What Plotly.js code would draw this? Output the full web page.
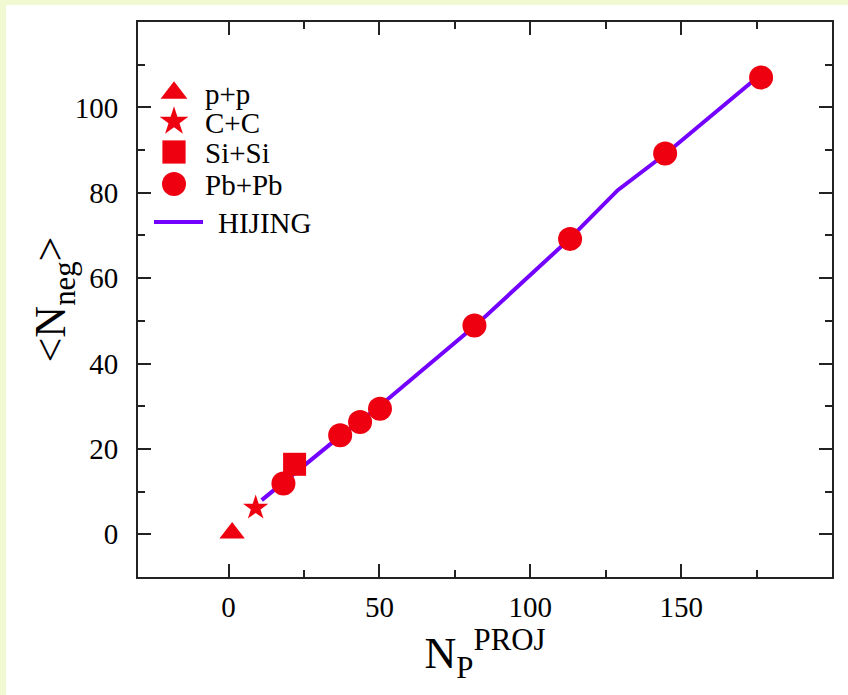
<!DOCTYPE html>
<html>
<head>
<meta charset="utf-8">
<script src="https://cdn.plot.ly/plotly-2.35.2.min.js"></script>
<style>
  html, body { margin: 0; padding: 0; background: #f0f9d2; width: 848px; height: 695px; overflow: hidden; }
  #chart { position: absolute; left: 6px; top: 5px; width: 842px; height: 690px; background: #ffffff; }
</style>
</head>
<body>
<div id="chart"></div>
<script>
// ---- data ----
const ppX = [1.2];
const ppY = [0.3];
const ccX = [9.0];
const ccY = [6.2];
const siX = [21.9];
const siY = [16.4];
const pbX = [18.2, 37.0, 43.6, 50.2, 81.5, 113.2, 144.7, 176.5];
const pbY = [11.9, 23.2, 26.3, 29.4, 48.9, 69.2, 89.2, 107.0];
const hijingX = [11, 18, 37, 50, 82, 113, 129, 145, 174];
const hijingY = [8.0, 12.0, 23.0, 30.0, 49.0, 69.2, 80.6, 89.2, 106.3];
const xMajorTicks = [0, 50, 100, 150];
const xMinorTicks = [25, 75, 125, 175];
const yMajorTicks = [0, 20, 40, 60, 80, 100];
const yMinorTicks = [10, 30, 50, 70, 90, 110];

const RED = '#ee0010';
const PURPLE = '#7400ff';
const FONT = 'Liberation Serif, Times New Roman, serif';

const traces = [
  { x: ppX, y: ppY, mode: 'markers', name: 'p+p', legendrank: 1,
    marker: { symbol: 'triangle-up', size: 22, color: RED } },
  { x: ccX, y: ccY, mode: 'markers', name: 'C+C', legendrank: 2,
    marker: { symbol: 'star', size: 19, color: RED } },
  { x: siX, y: siY, mode: 'markers', name: 'Si+Si', legendrank: 3,
    marker: { symbol: 'square', size: 23, color: RED } },
  { x: pbX, y: pbY, mode: 'markers', name: 'Pb+Pb', legendrank: 4,
    marker: { symbol: 'circle', size: 24, color: RED } },
  { x: hijingX, y: hijingY, mode: 'lines', name: 'HIJING', legendrank: 5,
    line: { color: PURPLE, width: 4 } }
];
// draw the line beneath the markers
const drawOrder = [traces[4], traces[0], traces[1], traces[2], traces[3]];

const axisCommon = {
  showgrid: false, zeroline: false, showline: true, mirror: 'ticks',
  linecolor: '#222', linewidth: 2, ticks: 'inside', ticklen: 13, tickwidth: 2, tickcolor: '#222',
  tickfont: { family: FONT, size: 29, color: '#000' }
};

const layout = {
  width: 842, height: 690,
  paper_bgcolor: '#ffffff', plot_bgcolor: '#ffffff',
  margin: { l: 132, r: 16, t: 17, b: 118 },
  font: { family: FONT, color: '#000' },
  showlegend: true,
  legend: {
    x: 0, y: 1, xanchor: 'left', yanchor: 'top',
    bgcolor: 'rgba(0,0,0,0)', borderwidth: 0,
    font: { family: FONT, size: 29, color: '#000' },
    traceorder: 'normal', itemsizing: 'trace'
  },
  xaxis: Object.assign({}, axisCommon, {
    range: [-30, 200], tickmode: 'array', tickvals: xMajorTicks,
    ticktext: xMajorTicks.map(String), ticklabelstandoff: 3,
    minor: { tickmode: 'array', tickvals: xMinorTicks, ticks: 'inside', ticklen: 7, tickwidth: 2, tickcolor: '#222' },
    title: { text: 'N<sub>P</sub><sup>PROJ</sup>', font: { family: FONT, size: 44, color: '#000' }, standoff: 8 }
  }),
  yaxis: Object.assign({}, axisCommon, {
    range: [-10, 120], tickmode: 'array', tickvals: yMajorTicks,
    ticktext: yMajorTicks.map(String), ticklabelstandoff: 12,
    minor: { tickmode: 'array', tickvals: yMinorTicks, ticks: 'inside', ticklen: 7, tickwidth: 2, tickcolor: '#222' },
    title: { text: '&lt;N<sub>neg</sub>&gt;', font: { family: FONT, size: 44, color: '#000' }, standoff: 0 }
  })
};

// legend layout tweaks (page pixel positions of the reference legend)
const legendStyle = {
  'p+p':    { cy: 90,  sx: 174, scale: 1.45, textX: 205 },
  'C+C':    { cy: 120, sx: 174, scale: 1.35, textX: 205 },
  'Si+Si':  { cy: 152, sx: 174, scale: 1.45, textX: 205 },
  'Pb+Pb':  { cy: 184, sx: 174, scale: 1.5,  textX: 205 },
  'HIJING': { cy: 222, lineX: 154, lineLen: 49, textX: 218 }
};

const gd = document.getElementById('chart');
Plotly.newPlot(gd, drawOrder, layout, { displayModeBar: false, staticPlot: true }).then(function () {
  const scroll = gd.querySelector('.legend .scrollbox');
  if (scroll) scroll.removeAttribute('clip-path');
  gd.querySelectorAll('.legend .traces').forEach(function (item) {
    const txt = item.querySelector('.legendtext');
    if (!txt) return;
    const st = legendStyle[txt.textContent.trim()];
    if (!st) return;
    const m = /translate\(\s*([-\d.]+)[ ,]+([-\d.]+)\s*\)/.exec(item.getAttribute('transform') || '');
    let tx = m ? parseFloat(m[1]) : 0, ty = m ? parseFloat(m[2]) : 0;
    const pt = item.querySelector('.legendpoints path');
    const ln = item.querySelector('.legendlines path');
    if (pt && st.scale) {
      pt.setAttribute('transform', (pt.getAttribute('transform') || '') + ' scale(' + st.scale + ')');
      const r = pt.getBoundingClientRect();
      tx += st.sx - (r.left + r.width / 2);
      ty += st.cy - (r.top + r.height / 2);
      item.setAttribute('transform', 'translate(' + tx + ',' + ty + ')');
    } else if (ln) {
      const r = ln.getBoundingClientRect();
      ty += st.cy - (r.top + r.height / 2);
      item.setAttribute('transform', 'translate(' + tx + ',' + ty + ')');
      const r2 = ln.getBoundingClientRect();
      const d0 = /M\s*([-\d.]+)/.exec(ln.getAttribute('d') || 'M5,0');
      const x0 = parseFloat(d0[1]) + (st.lineX - r2.left);
      ln.setAttribute('d', 'M' + x0 + ',0h' + st.lineLen);
    }
    const tr = txt.getBoundingClientRect();
    const cur = parseFloat(txt.getAttribute('x') || '0');
    txt.setAttribute('x', cur + (st.textX - tr.left));
  });
  // nudge the y-axis title slightly toward the axis, as in the reference
  const yt = gd.querySelector('.ytitle');
  if (yt) yt.setAttribute('transform', 'translate(5,0) ' + (yt.getAttribute('transform') || ''));
});
</script>
</body>
</html>
